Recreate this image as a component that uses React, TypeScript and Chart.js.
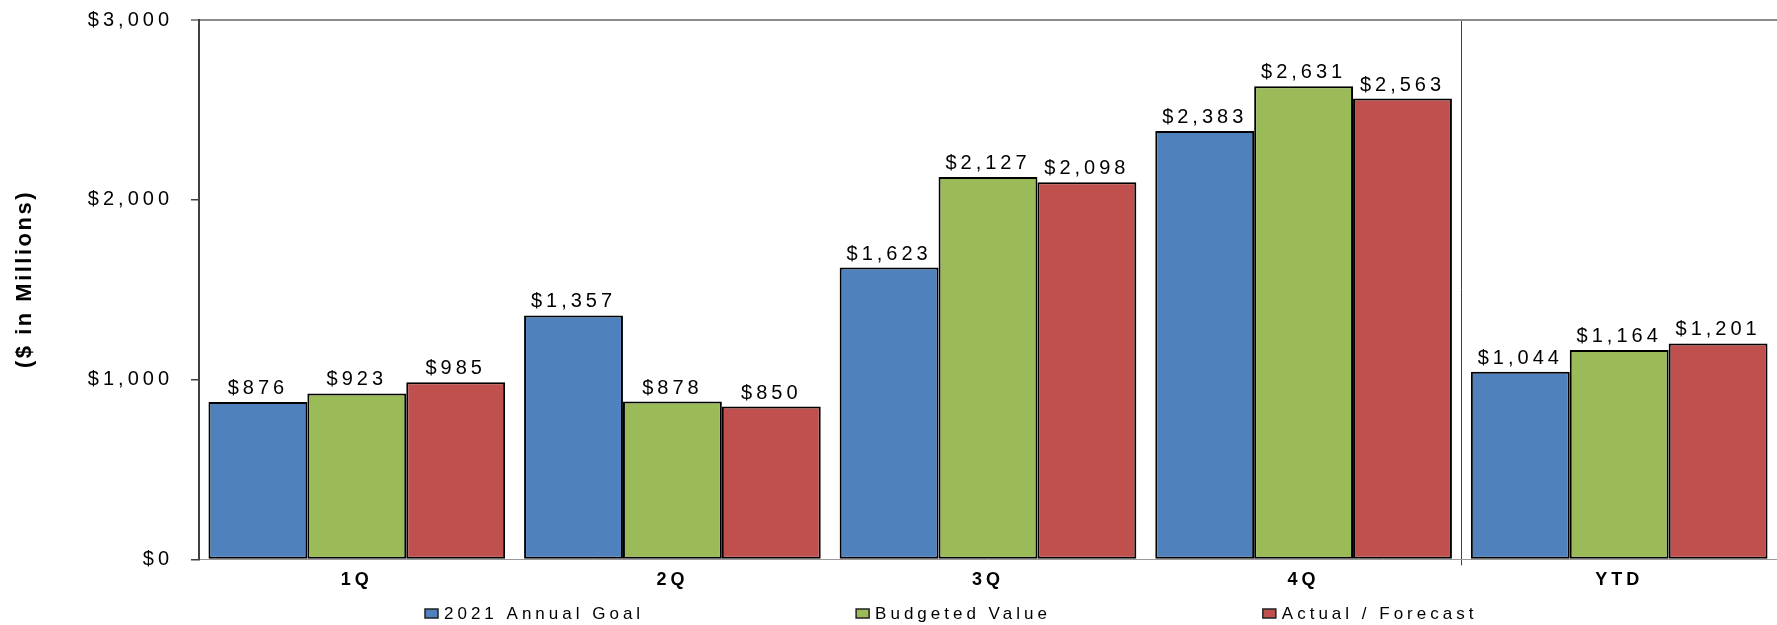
import React, { useEffect, useRef } from 'react';
import { Chart, registerables } from 'chart.js';

Chart.register(...registerables);

const categories = ['1Q', '2Q', '3Q', '4Q', 'YTD'];
const annualGoal = [876, 1357, 1623, 2383, 1044];
const budgetedValue = [923, 878, 2127, 2631, 1164];
const actualForecast = [985, 850, 2098, 2563, 1201];
const seriesNames = ['2021 Annual Goal', 'Budgeted Value', 'Actual / Forecast'];
const seriesColors = ['#4F81BD', '#9BBB59', '#C0504D'];
const yMin = 0;
const yMax = 3000;
const yStep = 1000;
const yTitle = '($ in Millions)';

const FONT = "'Liberation Sans', Arial, Helvetica, sans-serif";
const W = 1777;
const H = 625;

const fmt = (v: number) => '$' + v.toLocaleString('en-US');

const spacingPlugin = {
  id: 'spacing',
  beforeUpdate(chart: any) { chart.ctx.letterSpacing = '4px'; },
  beforeLayout(chart: any) { chart.ctx.letterSpacing = '4px'; },
  beforeDraw(chart: any) { chart.ctx.letterSpacing = '4px'; },
};

const valueLabelPlugin = {
  id: 'valueLabels',
  afterDatasetsDraw(chart: any) {
    const ctx = chart.ctx;
    ctx.save();
    ctx.letterSpacing = '4px';
    ctx.font = `20px ${FONT}`;
    ctx.textAlign = 'center';
    ctx.textBaseline = 'alphabetic';
    ctx.fillStyle = '#000';
    chart.data.datasets.forEach((ds: any, i: number) => {
      const meta = chart.getDatasetMeta(i);
      meta.data.forEach((bar: any, j: number) => {
        ctx.fillText(fmt(ds.data[j] as number), bar.x, bar.y - 8);
      });
    });
    ctx.restore();
  },
};

const legendPlugin = {
  id: 'customLegend',
  afterDraw(chart: any) {
    const ctx = chart.ctx;
    ctx.save();
    ctx.letterSpacing = '4px';
    ctx.font = `17px ${FONT}`;
    ctx.textAlign = 'left';
    ctx.textBaseline = 'middle';
    let x = 425;
    const y = 613.5;
    chart.data.datasets.forEach((ds: any) => {
      ctx.fillStyle = ds.backgroundColor;
      ctx.fillRect(x, y - 4.5, 13, 9);
      ctx.strokeStyle = '#222';
      ctx.lineWidth = 1.5;
      ctx.strokeRect(x, y - 4.5, 13, 9);
      ctx.fillStyle = '#000';
      ctx.fillText(ds.label, x + 19, y + 1);
      const w = ctx.measureText(ds.label).width;
      x += 19 + w + 212;
    });
    ctx.letterSpacing = '2.5px';
    ctx.font = `bold 22px ${FONT}`;
    ctx.textAlign = 'center';
    ctx.textBaseline = 'middle';
    ctx.translate(25, 279);
    ctx.rotate(-Math.PI / 2);
    ctx.fillText(yTitle, 0, 0);
    ctx.restore();
  },
};

export default function App() {
  const ref = useRef<HTMLCanvasElement | null>(null);

  useEffect(() => {
    if (!ref.current) return;
    const chart = new Chart(ref.current, {
      type: 'bar',
      data: {
        labels: categories,
        datasets: [annualGoal, budgetedValue, actualForecast].map((d, i) => ({
          label: seriesNames[i],
          data: d,
          backgroundColor: seriesColors[i],
          borderColor: '#000',
          borderWidth: 2,
          borderSkipped: false,
          categoryPercentage: 0.94,
          barPercentage: 1.0,
        })),
      },
      options: {
        responsive: false,
        animation: false,
        devicePixelRatio: 1,
        layout: { padding: { top: 20, right: 0, bottom: 30, left: 0 } },
        plugins: {
          legend: { display: false },
          tooltip: { enabled: false },
          title: { display: false },
        },
        scales: {
          x: {
            offset: true,
            grid: {
              offset: true,
              drawOnChartArea: true,
              color: (c: any) => (c.index === 4 ? '#404040' : 'rgba(0,0,0,0)'),
              tickColor: (c: any) => (c.index === 4 ? '#404040' : 'rgba(0,0,0,0)'),
              tickLength: 6,
              lineWidth: 1,
            },
            border: { color: '#9a9a9a', width: 1 },
            ticks: {
              color: '#000',
              padding: 4,
              font: { family: FONT, size: 18, weight: 'bold' },
            },
          },
          y: {
            min: yMin,
            max: yMax,
            afterFit: (s: any) => {
              s.width = 199;
              s.paddingTop = 10;
              s.paddingBottom = 10;
            },
            grid: {
              drawOnChartArea: true,
              color: (c: any) => (c.tick && c.tick.value === yMax ? '#8c8c8c' : 'rgba(0,0,0,0)'),
              tickColor: (c: any) => (c.tick && c.tick.value === yMax ? '#8c8c8c' : '#404040'),
              lineWidth: (c: any) => (c.tick && c.tick.value === yMax ? 2 : 1.5),
              tickLength: 8,
            },
            border: { color: '#404040', width: 2 },
            ticks: {
              stepSize: yStep,
              color: '#000',
              padding: 18,
              font: { family: FONT, size: 20 },
              callback: (v: any) => fmt(Number(v)),
            },
          },
        },
      },
      plugins: [spacingPlugin, valueLabelPlugin, legendPlugin],
    } as any);
    return () => chart.destroy();
  }, []);

  return (
    <div style={{ position: 'fixed', left: 0, top: 0, width: W, height: H, background: '#fff' }}>
      <canvas ref={ref} width={W} height={H} style={{ display: 'block', width: W, height: H }} />
    </div>
  );
}
